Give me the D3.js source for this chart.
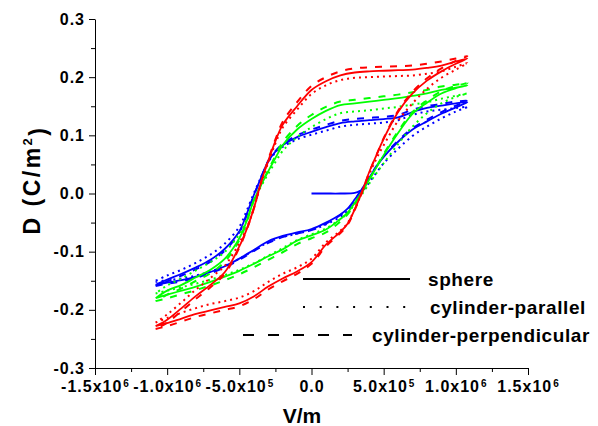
<!DOCTYPE html>
<html>
<head>
<meta charset="utf-8">
<script src="https://cdn.jsdelivr.net/npm/d3@7"></script>
<style>
  html, body { margin: 0; padding: 0; background: #ffffff; }
  svg { display: block; }
  text { font-family: "Liberation Sans", Arial, sans-serif; font-weight: bold; fill: #000; }
</style>
</head>
<body>
<svg id="chart" width="598" height="426"></svg>
<script>
// ---------------- data ----------------
// field grid (V/m) for the ascending branch (from -Emax to +Emax)
const xAsc = [-1.08e6,-1.0e6,-0.9e6,-0.8e6,-0.7e6,-0.6e6,-0.5e6,-0.4e6,-0.3e6,-0.2e6,-0.1e6,0,0.1e6,0.2e6,0.25e6,0.3e6,0.35e6,0.4e6,0.45e6,0.5e6,0.6e6,0.7e6,0.8e6,0.9e6,1.0e6,1.08e6];
// field grid (V/m) for the descending branch (from +Emax to -Emax)
const xDesc = [1.08e6,1.0e6,0.9e6,0.8e6,0.7e6,0.6e6,0.5e6,0.4e6,0.3e6,0.2e6,0.1e6,0,-0.1e6,-0.2e6,-0.25e6,-0.3e6,-0.35e6,-0.4e6,-0.45e6,-0.5e6,-0.6e6,-0.7e6,-0.8e6,-0.9e6,-1.0e6,-1.08e6];

// D (C/m^2) values
const redSphereAsc   = [-0.228,-0.223,-0.215,-0.207,-0.201,-0.195,-0.189,-0.177,-0.160,-0.146,-0.134,-0.118,-0.088,-0.066,-0.052,-0.027,0.003,0.037,0.066,0.094,0.140,0.172,0.194,0.210,0.223,0.232];
const redSphereDesc  = [0.233,0.227,0.220,0.216,0.213,0.212,0.211,0.210,0.208,0.203,0.193,0.178,0.150,0.118,0.090,0.056,0.019,-0.026,-0.062,-0.091,-0.135,-0.157,-0.176,-0.197,-0.217,-0.228];
const redParAsc      = [-0.222,-0.214,-0.205,-0.197,-0.190,-0.185,-0.179,-0.168,-0.152,-0.138,-0.127,-0.112,-0.084,-0.064,-0.051,-0.026,0.002,0.033,0.060,0.083,0.125,0.155,0.180,0.199,0.213,0.224];
const redParDesc     = [0.224,0.218,0.210,0.206,0.203,0.202,0.201,0.200,0.199,0.195,0.186,0.171,0.144,0.113,0.086,0.053,0.017,-0.026,-0.060,-0.085,-0.124,-0.145,-0.165,-0.187,-0.208,-0.222];
const redPerpAsc     = [-0.233,-0.228,-0.220,-0.212,-0.206,-0.200,-0.194,-0.182,-0.165,-0.151,-0.138,-0.121,-0.091,-0.068,-0.054,-0.028,0.002,0.036,0.066,0.095,0.142,0.175,0.198,0.215,0.228,0.236];
const redPerpDesc    = [0.236,0.232,0.227,0.223,0.220,0.219,0.218,0.217,0.215,0.210,0.200,0.185,0.157,0.123,0.093,0.058,0.019,-0.026,-0.063,-0.093,-0.138,-0.161,-0.181,-0.202,-0.222,-0.233];

const greenSphereAsc  = [-0.180,-0.174,-0.167,-0.160,-0.152,-0.143,-0.133,-0.121,-0.108,-0.096,-0.081,-0.072,-0.062,-0.044,-0.033,-0.016,0.003,0.024,0.045,0.066,0.104,0.137,0.156,0.172,0.181,0.186];
const greenSphereDesc = [0.186,0.182,0.178,0.172,0.168,0.164,0.161,0.158,0.155,0.152,0.142,0.128,0.110,0.083,0.061,0.038,0.014,-0.012,-0.048,-0.077,-0.112,-0.131,-0.144,-0.157,-0.167,-0.180];
const greenParAsc     = [-0.172,-0.167,-0.161,-0.155,-0.148,-0.140,-0.131,-0.120,-0.107,-0.094,-0.080,-0.070,-0.060,-0.044,-0.034,-0.018,-0.001,0.017,0.035,0.052,0.085,0.115,0.138,0.155,0.166,0.172];
const greenParDesc    = [0.172,0.168,0.163,0.157,0.153,0.149,0.146,0.143,0.141,0.138,0.128,0.114,0.097,0.073,0.054,0.034,0.012,-0.012,-0.045,-0.070,-0.100,-0.118,-0.132,-0.146,-0.158,-0.172];
const greenPerpAsc    = [-0.185,-0.180,-0.173,-0.166,-0.158,-0.149,-0.139,-0.127,-0.114,-0.101,-0.087,-0.077,-0.067,-0.048,-0.036,-0.018,0.002,0.024,0.046,0.068,0.107,0.140,0.160,0.176,0.185,0.190];
const greenPerpDesc   = [0.190,0.187,0.184,0.178,0.174,0.170,0.167,0.164,0.161,0.158,0.149,0.135,0.116,0.088,0.065,0.040,0.015,-0.012,-0.050,-0.080,-0.117,-0.137,-0.150,-0.163,-0.174,-0.185];

const blueSphereAsc  = [-0.157,-0.153,-0.149,-0.143,-0.135,-0.125,-0.112,-0.097,-0.082,-0.073,-0.067,-0.061,-0.050,-0.036,-0.026,-0.010,0.008,0.027,0.046,0.063,0.089,0.110,0.124,0.137,0.148,0.157];
const blueSphereDesc = [0.157,0.155,0.151,0.147,0.140,0.131,0.128,0.126,0.124,0.121,0.114,0.106,0.097,0.083,0.072,0.055,0.027,-0.003,-0.036,-0.065,-0.095,-0.114,-0.127,-0.138,-0.148,-0.157];
const blueParAsc     = [-0.152,-0.149,-0.146,-0.141,-0.134,-0.124,-0.112,-0.098,-0.084,-0.075,-0.069,-0.063,-0.053,-0.040,-0.030,-0.015,0.002,0.019,0.036,0.052,0.077,0.099,0.115,0.129,0.141,0.149];
const blueParDesc    = [0.149,0.147,0.144,0.141,0.135,0.126,0.122,0.120,0.118,0.115,0.108,0.101,0.093,0.080,0.070,0.054,0.028,0.000,-0.030,-0.057,-0.086,-0.105,-0.119,-0.131,-0.141,-0.150];
const bluePerpAsc    = [-0.159,-0.155,-0.151,-0.145,-0.137,-0.127,-0.114,-0.099,-0.085,-0.075,-0.069,-0.063,-0.052,-0.037,-0.027,-0.011,0.008,0.027,0.047,0.064,0.091,0.112,0.127,0.140,0.151,0.159];
const bluePerpDesc   = [0.159,0.158,0.154,0.150,0.144,0.135,0.132,0.130,0.128,0.125,0.118,0.110,0.100,0.085,0.073,0.056,0.027,-0.004,-0.038,-0.067,-0.098,-0.117,-0.130,-0.141,-0.151,-0.159];

// initial (virgin) curve of the blue sphere
const blueInitX = [0, 0.1e6, 0.2e6, 0.3e6, 0.34e6];
const blueInitD = [0, 0, 0, 0.001, 0.005];

// axes ticks
const xTickValues = [-1.5e6,-1.0e6,-0.5e6,0,0.5e6,1.0e6,1.5e6];
const xTickMant   = ["-1.5x10","-1.0x10","-5.0x10","0.0","5.0x10","1.0x10","1.5x10"];
const xTickExp    = ["6","6","5","","5","6","6"];
const xMinorValues = [-1.25e6,-0.75e6,-0.25e6,0.25e6,0.75e6,1.25e6];
const yTickValues = [-0.3,-0.2,-0.1,0,0.1,0.2,0.3];
const yTickLabels = ["-0.3","-0.2","-0.1","0.0","0.1","0.2","0.3"];
const yMinorValues = [-0.25,-0.15,-0.05,0.05,0.15,0.25];

const legendLabels = ["sphere","cylinder-parallel","cylinder-perpendicular"];

// ---------------- drawing ----------------
const svg = d3.select("#chart");
const x = d3.scaleLinear().domain([-1.5e6, 1.5e6]).range([95, 528]);
const y = d3.scaleLinear().domain([-0.3, 0.3]).range([368, 19]);

const styles = { sphere: null, par: "2,4", perp: "7,8" };
const curves = [
  {color:"#0000ff", style:"par",    asc:blueParAsc,    desc:blueParDesc},
  {color:"#0000ff", style:"perp",   asc:bluePerpAsc,   desc:bluePerpDesc},
  {color:"#0000ff", style:"sphere", asc:blueSphereAsc, desc:blueSphereDesc},
  {color:"#00ff00", style:"par",    asc:greenParAsc,    desc:greenParDesc},
  {color:"#00ff00", style:"perp",   asc:greenPerpAsc,   desc:greenPerpDesc},
  {color:"#00ff00", style:"sphere", asc:greenSphereAsc, desc:greenSphereDesc},
  {color:"#ff0000", style:"par",    asc:redParAsc,    desc:redParDesc},
  {color:"#ff0000", style:"perp",   asc:redPerpAsc,   desc:redPerpDesc},
  {color:"#ff0000", style:"sphere", asc:redSphereAsc, desc:redSphereDesc}
];

const line = d3.line().x(d => x(d[0])).y(d => y(d[1])).curve(d3.curveCatmullRom.alpha(0.5));

const plot = svg.append("g");
curves.forEach(c => {
  const pts = xAsc.map((v,i) => [v, c.asc[i]]).concat(xDesc.map((v,i) => [v, c.desc[i]]).slice(1));
  plot.append("path")
    .attr("d", line(pts))
    .attr("fill", "none")
    .attr("stroke", c.color)
    .attr("stroke-width", c.style === "sphere" ? 1.8 : 2)
    .attr("stroke-dasharray", styles[c.style]);
});
plot.append("path")
  .attr("d", line(blueInitX.map((v,i) => [v, blueInitD[i]])))
  .attr("fill","none").attr("stroke","#0000ff").attr("stroke-width",1.8);

// axes
const xAxis = svg.append("g").attr("transform","translate(0,368)")
  .call(d3.axisBottom(x).tickValues(xTickValues).tickSize(7).tickSizeOuter(0).tickPadding(6));
xAxis.selectAll(".tick text").each(function(d,i){
  const t = d3.select(this);
  t.text(null).attr("font-size","16px").attr("letter-spacing","1px")
   .attr("font-family","Liberation Sans, Arial, sans-serif").attr("font-weight","bold");
  t.append("tspan").text(xTickMant[i]);
  if (xTickExp[i]) t.append("tspan").attr("dx","1").attr("dy","-0.55em").attr("font-size","10px").text(xTickExp[i]);
});
svg.append("g").attr("transform","translate(0,368)")
  .call(d3.axisBottom(x).tickValues(xMinorValues).tickSize(4).tickFormat("")).select(".domain").remove();

const yAxis = svg.append("g").attr("transform","translate(95,0)")
  .call(d3.axisLeft(y).tickValues(yTickValues).tickSize(6).tickSizeOuter(0).tickPadding(4)
    .tickFormat((d,i) => yTickLabels[i]));
yAxis.selectAll(".tick text").attr("font-size","16px").attr("letter-spacing","1px")
  .attr("font-family","Liberation Sans, Arial, sans-serif").attr("font-weight","bold");
svg.append("g").attr("transform","translate(95,0)")
  .call(d3.axisLeft(y).tickValues(yMinorValues).tickSize(4).tickFormat("")).select(".domain").remove();

svg.selectAll(".domain, .tick line").attr("stroke","#000").attr("stroke-width",1);

// axis titles
svg.append("text").attr("x",302).attr("y",423).attr("text-anchor","middle").attr("font-size","21px").text("V/m");
const yt = svg.append("text").attr("transform","translate(40,180) rotate(-90)").attr("text-anchor","middle")
  .attr("font-size","23px").attr("letter-spacing","2.5px");
yt.append("tspan").text("D (C/m");
yt.append("tspan").attr("dy","-0.6em").attr("font-size","13px").text("2");
yt.append("tspan").attr("dy","0.6em").text(")");

// legend
const legY = [279, 307, 335];
const legX1 = [303, 303, 243];
const legX2 = [410, 410, 352];
const legTX = [428, 430, 372];
const legDash = [null, "2,14.7", "11,14"];
legendLabels.forEach((lab,i) => {
  svg.append("line").attr("x1",legX1[i]).attr("x2",legX2[i]).attr("y1",legY[i]).attr("y2",legY[i])
    .attr("stroke","#000").attr("stroke-width",2).attr("stroke-dasharray",legDash[i]);
  svg.append("text").attr("x",legTX[i]).attr("y",legY[i]+7).attr("font-size","19px")
    .attr("letter-spacing","0.6px").text(lab);
});
</script>
</body>
</html>
